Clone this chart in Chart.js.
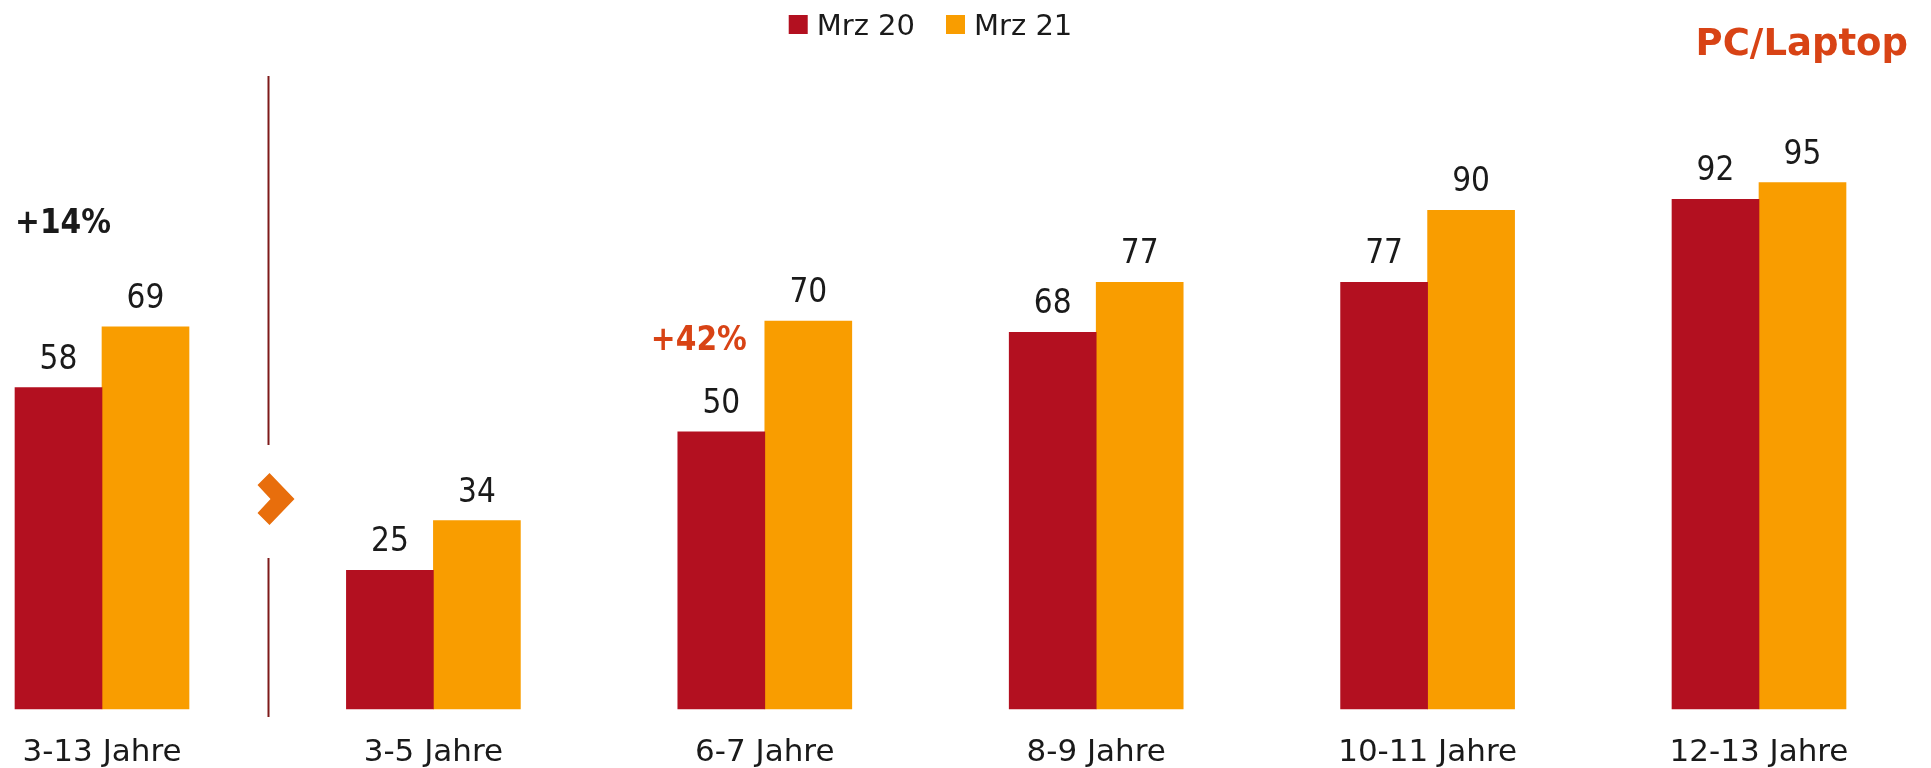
<!DOCTYPE html>
<html>
<head>
<meta charset="utf-8">
<script src="https://cdn.jsdelivr.net/npm/chart.js@4.4.1/dist/chart.umd.min.js"></script>
<style>
html, body { margin: 0; padding: 0; background: #fff; }
#wrap { width: 1931px; height: 768px; position: relative; }
</style>
</head>
<body>
<div id="wrap"><canvas id="myChart"></canvas></div>
<script>
const categories = ['3-13 Jahre', '3-5 Jahre', '6-7 Jahre', '8-9 Jahre', '10-11 Jahre', '12-13 Jahre'];
const seriesNames = ['Mrz 20', 'Mrz 21'];
const mrz20 = [58, 25, 50, 68, 77, 92];
const mrz21 = [69, 34, 70, 77, 90, 95];
const changeLabels = ['+14%', '+42%'];
const changeCats = [0, 2];
const titleText = 'PC/Laptop';

const red = '#B31020';
const orange = '#F99D00';
const accent = '#D84315';
const font = '"DejaVu Sans", sans-serif';
const fontCond = '"DejaVu Sans Condensed", "DejaVu Sans", sans-serif';

// legend, title, value labels, divider and the % notes
const extras = {
  id: 'extras',
  afterDatasetsDraw(chart) {
    const c = chart.ctx;
    const area = chart.chartArea;
    const x = chart.scales.x;
    c.save();

    // value labels over bars
    c.fillStyle = '#1a1a1a';
    c.font = '33px ' + fontCond;
    c.textAlign = 'center';
    c.textBaseline = 'alphabetic';
    chart.data.datasets.forEach((ds, i) => {
      chart.getDatasetMeta(i).data.forEach((bar, j) => {
        c.fillText(String(ds.data[j]), bar.x, bar.y - 19);
      });
    });

    // % notes
    c.font = 'bold 33px ' + fontCond;
    const m0 = chart.getDatasetMeta(0).data;
    const m1 = chart.getDatasetMeta(1).data;
    changeLabels.forEach((t, k) => {
      const j = changeCats[k];
      if (k === 0) {
        c.fillStyle = '#1a1a1a';
        c.textAlign = 'left';
        c.fillText(t, m0[j].x - m0[j].width / 2, m1[j].y - 94);
      } else {
        c.fillStyle = accent;
        c.textAlign = 'right';
        c.fillText(t, m1[j].x - m1[j].width / 2 - 18, m1[j].y + 29);
      }
    });

    // divider between total and age groups
    const dx = Math.round((x.getPixelForValue(0) + x.getPixelForValue(1)) / 2) + 0.5;
    c.strokeStyle = '#7E1A1A';
    c.lineWidth = 2;
    c.beginPath();
    c.moveTo(dx, 76); c.lineTo(dx, 445);
    c.moveTo(dx, 558); c.lineTo(dx, 717);
    c.stroke();
    const cy = 499;
    c.fillStyle = '#E86E0C';
    c.beginPath();
    c.moveTo(dx - 11, cy - 14);
    c.lineTo(dx + 1, cy - 26);
    c.lineTo(dx + 26, cy);
    c.lineTo(dx + 1, cy + 26);
    c.lineTo(dx - 11, cy + 14);
    c.lineTo(dx + 2, cy);
    c.closePath();
    c.fill();

    // legend
    c.font = '29px ' + font;
    c.textAlign = 'left';
    const gap = 9, box = 19, between = 31;
    const widths = seriesNames.map(s => c.measureText(s).width);
    const total = widths.reduce((a, w) => a + box + gap + w, 0) + between * (seriesNames.length - 1);
    let lx = (area.left + area.right) / 2 - total / 2;
    chart.data.datasets.forEach((ds, i) => {
      c.fillStyle = ds.backgroundColor;
      c.fillRect(lx, 15, box, 19);
      c.fillStyle = '#1a1a1a';
      c.fillText(ds.label, lx + box + gap, 35);
      lx += box + gap + widths[i] + between;
    });

    // title
    c.font = 'bold 37px ' + font;
    c.fillStyle = accent;
    c.textAlign = 'right';
    c.fillText(titleText, 1908, 55);

    c.restore();
  }
};

const ctx = document.getElementById('myChart');

new Chart(ctx, {
  type: 'bar',
  data: {
    labels: categories,
    datasets: [
      { label: seriesNames[0], data: mrz20, backgroundColor: red },
      { label: seriesNames[1], data: mrz21, backgroundColor: orange }
    ]
  },
  options: {
    responsive: true,
    maintainAspectRatio: false,
    animation: false,
    datasets: { bar: { barThickness: 87, clip: false } },
    layout: { padding: { left: 102, right: 172, top: 155, bottom: -21 } },
    plugins: {
      legend: { display: false },
      tooltip: { enabled: false }
    },
    scales: {
      x: {
        offset: false,
        grid: { display: false },
        border: { display: false },
        ticks: {
          color: '#1a1a1a',
          font: { family: font, size: 31, lineHeight: 1.1 },
          padding: 19,
          maxRotation: 0,
          autoSkip: false
        }
      },
      y: {
        display: false,
        min: 0,
        max: 100
      }
    }
  },
  plugins: [extras]
});
</script>
</body>
</html>
